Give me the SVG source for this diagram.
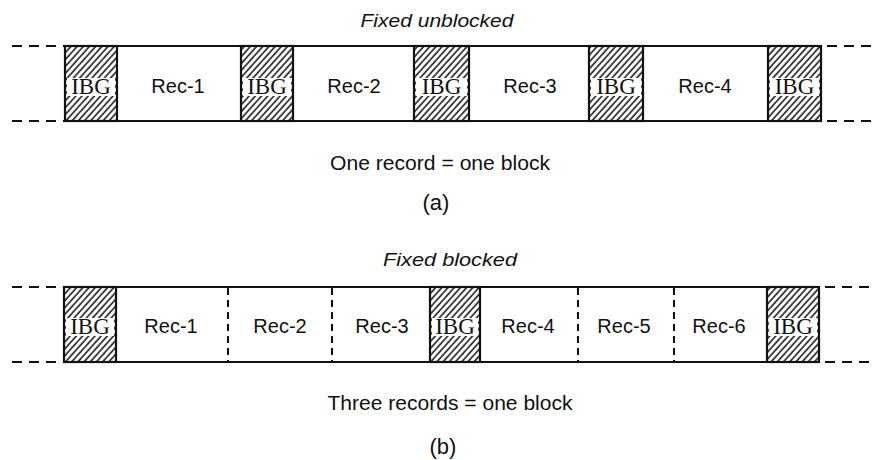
<svg xmlns="http://www.w3.org/2000/svg" width="874" height="460" viewBox="0 0 874 460">
<defs>
<pattern id="hatch" patternUnits="userSpaceOnUse" width="4.6" height="10" patternTransform="rotate(42)">
<line x1="1" y1="-1" x2="1" y2="11" stroke="#111" stroke-width="1.5"/>
</pattern>
</defs>
<style>
.solid{stroke:#111;stroke-width:2.2;fill:none}
.dash{stroke:#111;stroke-width:2.2;fill:none;stroke-dasharray:10 7}
.sep{stroke:#111;stroke-width:2;fill:none;stroke-dasharray:7 5}
.ibg{fill:url(#hatch);stroke:#111;stroke-width:2.2}
.band{fill:#fff}
.ibgt{font-family:"Liberation Serif",serif;font-size:23px;fill:#111;text-anchor:middle}
.rec{font-family:"Liberation Sans",Arial,sans-serif;font-size:20px;fill:#111;text-anchor:middle}
.title{font-family:"Liberation Sans",Arial,sans-serif;font-style:italic;font-size:19px;fill:#111;text-anchor:middle}
.cap{font-family:"Liberation Sans",Arial,sans-serif;font-size:20px;fill:#111;text-anchor:middle}
.sub{font-family:"Liberation Sans",Arial,sans-serif;font-size:22px;fill:#111;text-anchor:middle}
</style>
<rect width="874" height="460" fill="#fff"/>

<!-- (a) Fixed unblocked -->
<text class="title" x="437" y="27" textLength="153" lengthAdjust="spacingAndGlyphs">Fixed unblocked</text>
<g id="tape-a">
<line class="dash" x1="12" y1="46" x2="64" y2="46"/>
<line class="dash" x1="12" y1="121" x2="64" y2="121"/>
<line class="solid" x1="64" y1="46" x2="822" y2="46"/>
<line class="solid" x1="64" y1="121" x2="822" y2="121"/>
<line class="dash" x1="822" y1="46" x2="874" y2="46" style="stroke-dashoffset:-5"/>
<line class="dash" x1="822" y1="121" x2="874" y2="121" style="stroke-dashoffset:-5"/>
</g>
<g id="a-ibg1"><rect class="ibg" x="65" y="46" width="52" height="75"/><rect class="band" x="67" y="78" width="48" height="18"/><text class="ibgt" x="91" y="94">IBG</text></g>
<g id="a-rec1"><text class="rec" x="178" y="93">Rec-1</text></g>
<g id="a-ibg2"><rect class="ibg" x="241" y="46" width="52" height="75"/><rect class="band" x="243" y="78" width="48" height="18"/><text class="ibgt" x="267" y="94">IBG</text></g>
<g id="a-rec2"><text class="rec" x="354" y="93">Rec-2</text></g>
<g id="a-ibg3"><rect class="ibg" x="414" y="46" width="55" height="75"/><rect class="band" x="416" y="78" width="51" height="18"/><text class="ibgt" x="441.5" y="94">IBG</text></g>
<g id="a-rec3"><text class="rec" x="530" y="93">Rec-3</text></g>
<g id="a-ibg4"><rect class="ibg" x="589" y="46" width="54" height="75"/><rect class="band" x="591" y="78" width="50" height="18"/><text class="ibgt" x="616" y="94">IBG</text></g>
<g id="a-rec4"><text class="rec" x="705" y="93">Rec-4</text></g>
<g id="a-ibg5"><rect class="ibg" x="768" y="46" width="53" height="75"/><rect class="band" x="770" y="78" width="49" height="18"/><text class="ibgt" x="794.5" y="94">IBG</text></g>
<text class="cap" x="440" y="170" textLength="220" lengthAdjust="spacingAndGlyphs">One record = one block</text>
<text class="sub" x="436" y="210">(a)</text>

<!-- (b) Fixed blocked -->
<text class="title" x="450" y="266" textLength="134" lengthAdjust="spacingAndGlyphs">Fixed blocked</text>
<g id="tape-b">
<line class="dash" x1="12" y1="287" x2="63" y2="287"/>
<line class="dash" x1="12" y1="362" x2="63" y2="362"/>
<line class="solid" x1="63" y1="287" x2="820" y2="287"/>
<line class="solid" x1="63" y1="362" x2="820" y2="362"/>
<line class="dash" x1="820" y1="287" x2="874" y2="287" style="stroke-dashoffset:-5"/>
<line class="dash" x1="820" y1="362" x2="874" y2="362" style="stroke-dashoffset:-5"/>
<line class="sep" x1="228" y1="288" x2="228" y2="361"/>
<line class="sep" x1="332" y1="288" x2="332" y2="361"/>
<line class="sep" x1="578" y1="288" x2="578" y2="361"/>
<line class="sep" x1="674" y1="288" x2="674" y2="361"/>
</g>
<g id="b-ibg1"><rect class="ibg" x="64" y="287" width="52" height="75"/><rect class="band" x="66" y="318" width="48" height="18"/><text class="ibgt" x="90" y="334">IBG</text></g>
<g id="b-rec1"><text class="rec" x="171" y="333">Rec-1</text></g>
<g id="b-rec2"><text class="rec" x="280" y="333">Rec-2</text></g>
<g id="b-rec3"><text class="rec" x="382" y="333">Rec-3</text></g>
<g id="b-ibg2"><rect class="ibg" x="430" y="287" width="50" height="75"/><rect class="band" x="432" y="318" width="46" height="18"/><text class="ibgt" x="455" y="334">IBG</text></g>
<g id="b-rec4"><text class="rec" x="528" y="333">Rec-4</text></g>
<g id="b-rec5"><text class="rec" x="624" y="333">Rec-5</text></g>
<g id="b-rec6"><text class="rec" x="719" y="333">Rec-6</text></g>
<g id="b-ibg3"><rect class="ibg" x="767" y="287" width="52" height="75"/><rect class="band" x="769" y="318" width="48" height="18"/><text class="ibgt" x="793" y="334">IBG</text></g>
<text class="cap" x="450" y="410" textLength="245" lengthAdjust="spacingAndGlyphs">Three records = one block</text>
<text class="sub" x="443" y="454">(b)</text>
</svg>
